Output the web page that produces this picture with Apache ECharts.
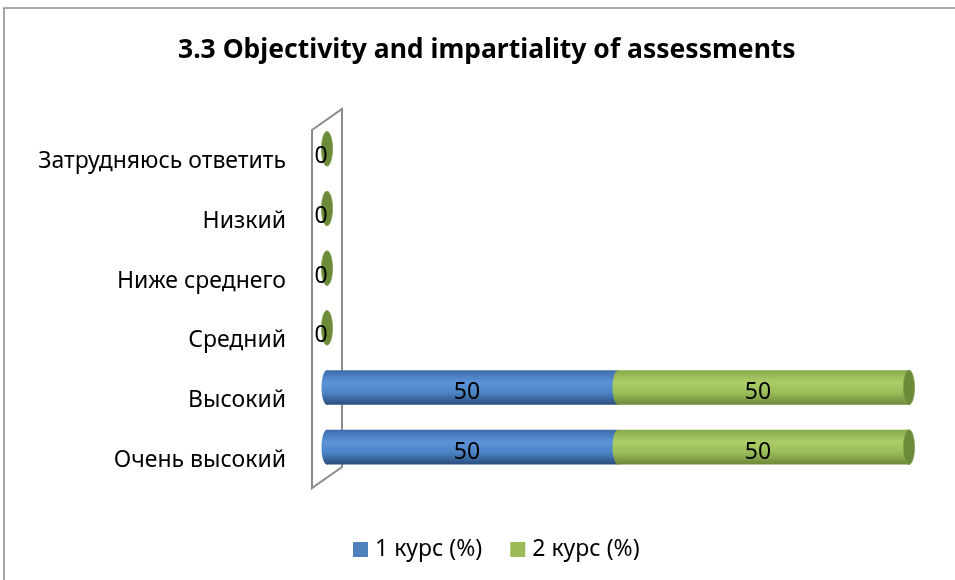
<!DOCTYPE html>
<html>
<head>
<meta charset="utf-8">
<script src="https://cdn.jsdelivr.net/npm/echarts@6/dist/echarts.min.js"></script>
<style>
  html, body { margin: 0; padding: 0; background: #fff; }
  #chart { width: 955px; height: 580px; }
</style>
</head>
<body>
<div id="chart"></div>
<script>
// данные
var categories = ['Очень высокий', 'Высокий', 'Средний', 'Ниже среднего', 'Низкий', 'Затрудняюсь ответить'];
var course1 = [50, 50, 0, 0, 0, 0];
var course2 = [50, 50, 0, 0, 0, 0];
var seriesNames = ['1 курс (%)', '2 курс (%)'];

var FONT = '"Noto Sans", sans-serif';
var gridLeft = 327, gridRight = 46, gridTop = 119, gridBottom = 103;

var chart = echarts.init(document.getElementById('chart'));

function grad(stops) {
  return new echarts.graphic.LinearGradient(0, 0, 0, 1, stops);
}
var blueGrad = [
  { offset: 0, color: '#3e6cab' },
  { offset: 0.35, color: '#5b93d8' },
  { offset: 0.65, color: '#4d84c6' },
  { offset: 1, color: '#2a4d7d' }
];
var greenGrad = [
  { offset: 0, color: '#89aa4b' },
  { offset: 0.35, color: '#abce68' },
  { offset: 0.65, color: '#9bbd59' },
  { offset: 1, color: '#6c8839' }
];

// данные для custom серии: [индекс категории, значение, база]
function buildData(values, bases) {
  return values.map(function (v, i) { return [i, v, bases ? bases[i] : 0]; });
}

function cylinder(stops, isLast) {
  return function (params, api) {
    var idx = api.value(0);
    var v = api.value(1);
    var base = api.value(2);
    var p0 = api.coord([base, idx]);
    var p1 = api.coord([base + v, idx]);
    var band = api.size([0, 1])[1];
    var h = band * 0.58;
    var cy = p0[1];
    var rx = 5.5;
    var children = [];
    if (v > 0) {
      children.push({
        type: 'rect',
        shape: { x: p0[0], y: cy - h / 2, width: p1[0] - p0[0], height: h },
        style: { fill: grad(stops) }
      });
      children.push({
        type: 'ellipse',
        shape: { cx: p0[0], cy: cy, rx: rx, ry: h / 2 },
        style: { fill: grad(stops) }
      });
    }
    if (isLast) {
      children.push({
        type: 'ellipse',
        shape: { cx: p1[0], cy: cy, rx: rx, ry: h / 2 },
        style: { fill: '#6b8a3a', stroke: '#7f9f48', lineWidth: 0.8 }
      });
    }
    if (v > 0 || isLast) {
      children.push({
        type: 'text',
        style: {
          text: String(base + v === 0 ? 0 : v),
          x: v > 0 ? (p0[0] + p1[0]) / 2 - rx : p0[0] - 6,
          y: cy + (v > 0 ? 5 : 8),
          align: 'center',
          verticalAlign: 'middle',
          font: '23px ' + FONT,
          fill: '#000'
        }
      });
    }
    return { type: 'group', children: children };
  };
}

var option = {
  animation: false,
  title: {
    text: '3.3 Objectivity and impartiality of assessments',
    left: 178,
    top: 37,
    padding: 0,
    textStyle: { fontFamily: FONT, fontSize: 26.5, fontWeight: 'bold', color: '#000' }
  },
  legend: {
    top: 533,
    left: 348,
    icon: 'rect',
    itemWidth: 15,
    itemHeight: 15,
    itemGap: 28,
    textStyle: { fontFamily: FONT, fontSize: 23, color: '#000', padding: [0, 0, 0, 2] },
    data: seriesNames
  },
  grid: {
    left: gridLeft, right: gridRight, top: gridTop, bottom: gridBottom,
    containLabel: false, outerBoundsMode: 'none'
  },
  xAxis: { type: 'value', min: 0, max: 100, show: false },
  yAxis: {
    type: 'category',
    data: categories,
    axisLine: { show: false },
    axisTick: { show: false },
    splitLine: { show: false },
    axisLabel: {
      margin: 41,
      fontFamily: FONT,
      fontSize: 23,
      color: '#000',
      verticalAlign: 'top',
      lineHeight: 26
    }
  },
  graphic: [
    {
      type: 'rect', z: -10, silent: true,
      shape: { x: 4, y: 8, width: 970, height: 600 },
      style: { fill: 'none', stroke: '#8a8a8a', lineWidth: 1.5 }
    },
    {
      type: 'polygon', z: -5, silent: true,
      shape: {
        points: [
          [gridLeft - 15, gridTop + 11],
          [gridLeft + 15, gridTop - 10],
          [gridLeft + 15, 580 - gridBottom - 10],
          [gridLeft - 15, 580 - gridBottom + 11]
        ]
      },
      style: { fill: '#fff', stroke: '#8c8c8c', lineWidth: 2 }
    }
  ],
  series: [
    {
      name: seriesNames[0],
      type: 'custom',
      itemStyle: { color: '#4F81BD' },
      encode: { x: 1, y: 0 },
      renderItem: cylinder(blueGrad, false),
      data: buildData(course1, null)
    },
    {
      name: seriesNames[1],
      type: 'custom',
      itemStyle: { color: '#9BBB59' },
      encode: { x: 1, y: 0 },
      renderItem: cylinder(greenGrad, true),
      data: buildData(course2, course1)
    }
  ]
};

chart.setOption(option);
</script>
</body>
</html>
